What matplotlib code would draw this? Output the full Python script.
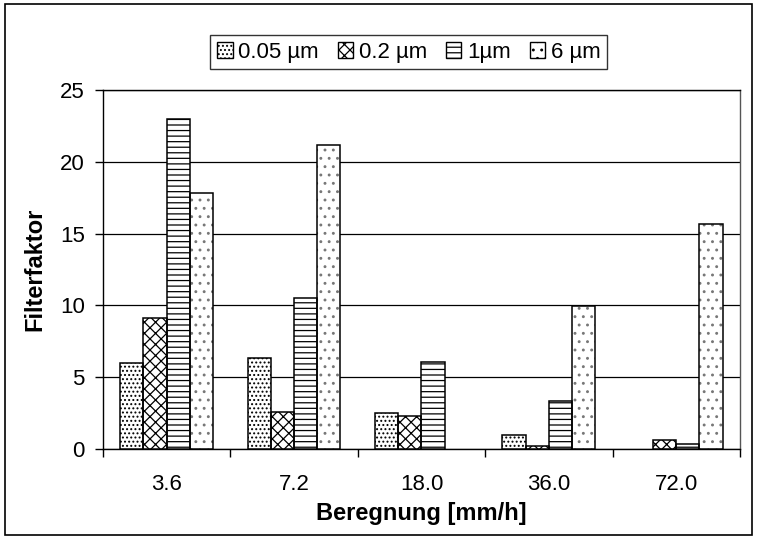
import numpy as np
import matplotlib
matplotlib.use("Agg")
import matplotlib.pyplot as plt
from matplotlib.patches import Rectangle, Patch

plt.rcParams["font.family"] = ["Liberation Sans", "DejaVu Sans"]
plt.rcParams["hatch.linewidth"] = 0.9

# ----------------------------------------------------------------------
categories = ["3.6", "7.2", "18.0", "36.0", "72.0"]
series_names = ["0.05 µm", "0.2 µm", "1µm", "6 µm"]
vals_005 = [6.0, 6.35, 2.5, 0.95, 0.0]
vals_02 = [9.1, 2.55, 2.3, 0.2, 0.65]
vals_1 = [23.0, 10.5, 6.05, 3.35, 0.35]
vals_6 = [17.8, 21.2, 0.0, 9.95, 15.65]
y_ticks = [0, 5, 10, 15, 20, 25]
# ----------------------------------------------------------------------

series = [vals_005, vals_02, vals_1, vals_6]
hatches = ["....", "xxx", "---", ".."]
hatch_cols = ["black", "black", "black", "#777777"]
FS = 16

fig = plt.figure(figsize=(7.57, 5.39), dpi=100)
ax = fig.add_axes([0.136, 0.167, 0.8415, 0.666])

x = np.arange(len(categories))
bw = 0.182
handles = []
for k, (vals, name, h, hc) in enumerate(zip(series, series_names, hatches, hatch_cols)):
    offs = (k - 1.5) * bw
    v = np.array(vals, dtype=float)
    v[v == 0] = np.nan  # leere Balken nicht zeichnen
    # muster (farbe ueber edgecolor), dann schwarzer rand drueber
    ax.bar(x + offs, v, width=bw, facecolor="white", edgecolor=hc,
           linewidth=0, hatch=h, zorder=3)
    ax.bar(x + offs, v, width=bw, fill=False, edgecolor="black",
           linewidth=1.1, zorder=4)
    handles.append(Patch(facecolor="white", edgecolor="black", hatch=h,
                         linewidth=1, label=name))

ax.set_ylim(0, 25)
ax.set_xlim(-0.5, len(categories) - 0.5)
ax.set_yticks(y_ticks)
ax.yaxis.grid(True, color="black", linewidth=0.9, zorder=0)
ax.set_axisbelow(True)

# ticks an den Gruppengrenzen, Beschriftung in der Mitte
ax.set_xticks(np.arange(len(categories) + 1) - 0.5)
ax.set_xticklabels([])
ax.set_xticks(x, minor=True)
ax.set_xticklabels(categories, minor=True)
ax.tick_params(axis="x", which="minor", length=0, pad=18, labelsize=FS)
ax.tick_params(axis="x", which="major", direction="out", length=6, width=1)
ax.tick_params(axis="y", direction="out", length=6, width=1, labelsize=FS, pad=7)

for s in ax.spines.values():
    s.set_color("black")
    s.set_linewidth(1)
ax.spines["right"].set_color("#555555")

ax.set_xlabel("Beregnung [mm/h]", fontsize=FS + 1, fontweight="bold", labelpad=5)
ax.set_ylabel("Filterfaktor", fontsize=FS + 1, fontweight="bold", labelpad=10)

leg = ax.legend(handles=handles, loc="lower center", bbox_to_anchor=(0.48, 1.058),
                ncol=4, frameon=True, fancybox=False, edgecolor="black",
                fontsize=FS, handlelength=0.7, handleheight=0.7,
                handletextpad=0.25, columnspacing=0.85, borderpad=0.3,
                borderaxespad=0)
leg.get_frame().set_linewidth(1)

# Rahmen um die ganze Grafik
fig.patches.append(Rectangle((0.007, 0.007), 0.986, 0.986, transform=fig.transFigure,
                             fill=False, edgecolor="black", linewidth=1.2))

fig.savefig("out.png", dpi=100)
